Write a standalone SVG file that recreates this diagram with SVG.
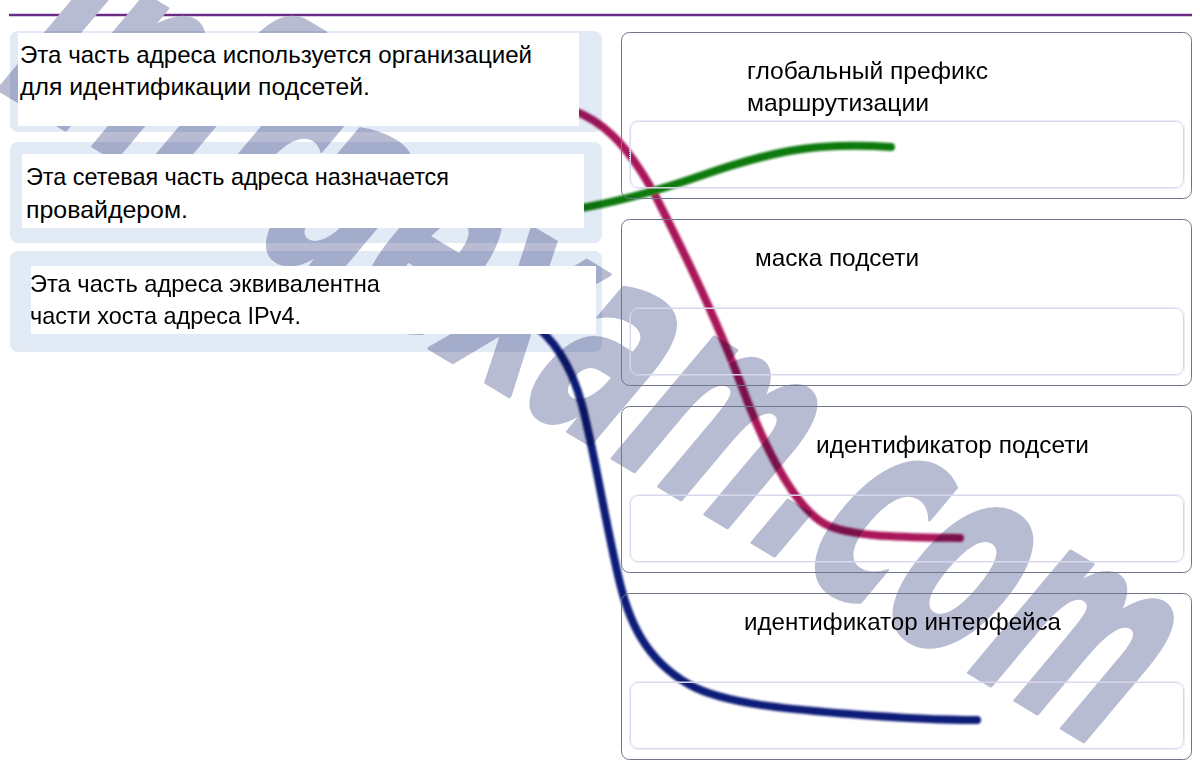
<svg xmlns="http://www.w3.org/2000/svg" width="1200" height="775" viewBox="0 0 1200 775">
<style>
  .txt { font-family: "Liberation Sans", Arial, sans-serif; font-size: 24px; fill: #000; }
  .lbg { fill: #e2eaf6; mix-blend-mode: multiply; }
  .lwhite { fill: #ffffff; }
  .rbox { fill: none; stroke: #6f7689; stroke-width: 1; }
  .drop { fill: none; stroke: #d3d9ea; stroke-width: 1; }
  .drop2 { fill: none; stroke: #e6d3f0; stroke-width: 1; stroke-dasharray: 1 1; }
  .wm { font-family: "DejaVu Sans", sans-serif; font-weight: bold; font-size: 285px; fill: #b8bcd2; stroke: #b8bcd2; stroke-width: 4; stroke-linejoin: round; }
  .conn { fill: none; stroke-linecap: round; stroke-linejoin: round; stroke-width: 8; }
</style>
<defs>
  <filter id="soft" x="-5%" y="-5%" width="110%" height="110%">
    <feGaussianBlur stdDeviation="0.9"/>
  </filter>
</defs>
<rect x="0" y="0" width="1200" height="775" fill="#ffffff"/>
<line x1="9" y1="15" x2="1192" y2="15" stroke="#6b2c86" stroke-width="2.5"/>

<g id="watermark">
  <text class="wm" text-anchor="end" transform="translate(1095,748) rotate(31) skewX(-9) scale(0.54,1)">infraexam.com</text>
</g>

<g id="connectors" style="mix-blend-mode:multiply" filter="url(#soft)">
  <path class="conn" stroke="#aa145a" d="M 572,110 C 600,120 625,140 655,195 C 678,240 715,315 742,387 C 758,430 790,505 825,524 C 850,537 900,537 960,538"/>
  <path class="conn" stroke="#107a10" stroke-width="9" d="M 570,210 C 620,202 660,190 700,176 C 740,162 780,150 820,147 C 850,145 875,146 891,147"/>
  <path class="conn" stroke="#101c78" d="M 528,320 C 550,335 570,360 582,405 C 594,450 605,520 618,575 C 628,620 645,660 690,685 C 726,705 800,710 850,714 C 900,718 940,720 977,720"/>
</g>

<g id="q1">
  <rect class="lbg" x="10" y="31" width="592" height="101" rx="8"/>
  <rect class="lwhite" x="18" y="33" width="561" height="93"/>
  <text class="txt" x="20" y="63" textLength="512" lengthAdjust="spacingAndGlyphs">Эта часть адреса используется организацией</text>
  <text class="txt" x="20" y="95" textLength="350" lengthAdjust="spacingAndGlyphs">для идентификации подсетей.</text>
</g>
<g id="q2">
  <rect class="lbg" x="10" y="142" width="592" height="101" rx="8"/>
  <rect class="lwhite" x="22" y="154" width="562" height="74"/>
  <text class="txt" x="26" y="185" textLength="423" lengthAdjust="spacingAndGlyphs">Эта сетевая часть адреса назначается</text>
  <text class="txt" x="26" y="218" textLength="162" lengthAdjust="spacingAndGlyphs">провайдером.</text>
</g>
<g id="q3">
  <rect class="lbg" x="10" y="251" width="592" height="101" rx="8"/>
  <rect class="lwhite" x="31" y="266" width="565" height="68"/>
  <text class="txt" x="30" y="292" textLength="350" lengthAdjust="spacingAndGlyphs">Эта часть адреса эквивалентна</text>
  <text class="txt" x="30" y="324" textLength="271" lengthAdjust="spacingAndGlyphs">части хоста адреса IPv4.</text>
</g>

<g id="a1">
  <rect class="rbox" x="621.5" y="32.5" width="570" height="166" rx="8"/>
  <rect class="drop2" x="629.5" y="120.5" width="555" height="68" rx="8"/>
  <rect class="drop" x="630.5" y="121.5" width="553" height="66" rx="8"/>
  <text class="txt" x="747" y="79" textLength="241" lengthAdjust="spacingAndGlyphs">глобальный префикс</text>
  <text class="txt" x="747" y="111" textLength="182" lengthAdjust="spacingAndGlyphs">маршрутизации</text>
</g>
<g id="a2">
  <rect class="rbox" x="621.5" y="219.5" width="570" height="166" rx="8"/>
  <rect class="drop2" x="629.5" y="307.5" width="555" height="68" rx="8"/>
  <rect class="drop" x="630.5" y="308.5" width="553" height="66" rx="8"/>
  <text class="txt" x="755" y="266" textLength="164" lengthAdjust="spacingAndGlyphs">маска подсети</text>
</g>
<g id="a3">
  <rect class="rbox" x="621.5" y="406.5" width="570" height="166" rx="8"/>
  <rect class="drop2" x="629.5" y="494.5" width="555" height="68" rx="8"/>
  <rect class="drop" x="630.5" y="495.5" width="553" height="66" rx="8"/>
  <text class="txt" x="816" y="453" textLength="273" lengthAdjust="spacingAndGlyphs">идентификатор подсети</text>
</g>
<g id="a4">
  <rect class="rbox" x="621.5" y="593.5" width="570" height="166" rx="8"/>
  <rect class="drop2" x="629.5" y="681.5" width="555" height="68" rx="8"/>
  <rect class="drop" x="630.5" y="682.5" width="553" height="66" rx="8"/>
  <text class="txt" x="744" y="630" textLength="317" lengthAdjust="spacingAndGlyphs">идентификатор интерфейса</text>
</g>
</svg>
